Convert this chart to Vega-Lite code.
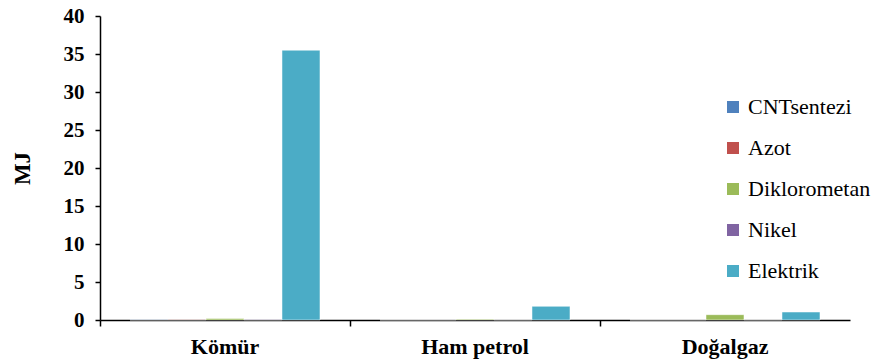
{
  "$schema": "https://vega.github.io/schema/vega-lite/v6.json",
  "width": 750,
  "height": 304,
  "autosize": "none",
  "padding": {"left": 100, "top": 16, "right": 32, "bottom": 43},
  "background": "white",
  "config": {
    "view": {"stroke": null},
    "font": "Liberation Serif",
    "axis": {"labelFont": "Liberation Serif", "titleFont": "Liberation Serif"},
    "legend": {"labelFont": "Liberation Serif", "titleFont": "Liberation Serif"}
  },
  "data": {"values": [
    {"kaynak": "Kömür", "seri": "CNTsentezi", "MJ": 0.02},
    {"kaynak": "Kömür", "seri": "Azot", "MJ": 0.02},
    {"kaynak": "Kömür", "seri": "Diklorometan", "MJ": 0.2},
    {"kaynak": "Kömür", "seri": "Nikel", "MJ": 0.02},
    {"kaynak": "Kömür", "seri": "Elektrik", "MJ": 35.5},
    {"kaynak": "Ham petrol", "seri": "CNTsentezi", "MJ": 0.01},
    {"kaynak": "Ham petrol", "seri": "Azot", "MJ": 0.01},
    {"kaynak": "Ham petrol", "seri": "Diklorometan", "MJ": 0.1},
    {"kaynak": "Ham petrol", "seri": "Nikel", "MJ": 0.01},
    {"kaynak": "Ham petrol", "seri": "Elektrik", "MJ": 1.8},
    {"kaynak": "Doğalgaz", "seri": "CNTsentezi", "MJ": 0.01},
    {"kaynak": "Doğalgaz", "seri": "Azot", "MJ": 0.01},
    {"kaynak": "Doğalgaz", "seri": "Diklorometan", "MJ": 0.7},
    {"kaynak": "Doğalgaz", "seri": "Nikel", "MJ": 0.01},
    {"kaynak": "Doğalgaz", "seri": "Elektrik", "MJ": 1.05}
  ]},
  "mark": {"type": "bar", "stroke": "white", "strokeWidth": 0.5},
  "encoding": {
    "x": {
      "field": "kaynak", "type": "nominal",
      "sort": ["Kömür", "Ham petrol", "Doğalgaz"],
      "scale": {"paddingInner": 0, "paddingOuter": 0},
      "axis": {
        "title": null, "labelAngle": 0, "bandPosition": 0,
        "labelFont": "Liberation Serif", "labelFontWeight": "bold", "labelFontSize": 22,
        "labelColor": "black", "labelPadding": 10,
        "domainColor": "black", "domainWidth": 1.5, "tickColor": "black", "tickWidth": 1.5, "tickSize": 6,
        "labelBound": false, "labelFlush": false
      }
    },
    "xOffset": {
      "field": "seri", "type": "nominal",
      "sort": ["CNTsentezi", "Azot", "Diklorometan", "Nikel", "Elektrik"],
      "scale": {"paddingInner": 0, "paddingOuter": 0.79}
    },
    "y": {
      "field": "MJ", "type": "quantitative",
      "scale": {"domain": [0, 40], "nice": false},
      "axis": {
        "title": "MJ", "titleFont": "Liberation Serif", "titleFontSize": 23, "titleFontWeight": "bold",
        "titleColor": "black", "titlePadding": 29,
        "values": [0, 5, 10, 15, 20, 25, 30, 35, 40],
        "labelFont": "Liberation Serif", "labelFontWeight": "bold", "labelFontSize": 21,
        "labelColor": "black", "labelPadding": 11,
        "grid": false, "domainColor": "black", "domainWidth": 1.5, "tickColor": "black", "tickWidth": 1.5, "tickSize": 5
      }
    },
    "color": {
      "field": "seri", "type": "nominal",
      "sort": ["CNTsentezi", "Azot", "Diklorometan", "Nikel", "Elektrik"],
      "scale": {
        "domain": ["CNTsentezi", "Azot", "Diklorometan", "Nikel", "Elektrik"],
        "range": ["#4F81BD", "#C0504D", "#9BBB59", "#8064A2", "#4BACC6"]
      },
      "legend": {
        "title": null, "orient": "none", "legendX": 622, "legendY": 80,
        "symbolType": "square", "symbolSize": 144, "symbolStrokeWidth": 0,
        "labelFont": "Liberation Serif", "labelFontSize": 22, "labelColor": "black",
        "rowPadding": 19, "labelOffset": 4, "labelLimit": 300
      }
    }
  }
}
